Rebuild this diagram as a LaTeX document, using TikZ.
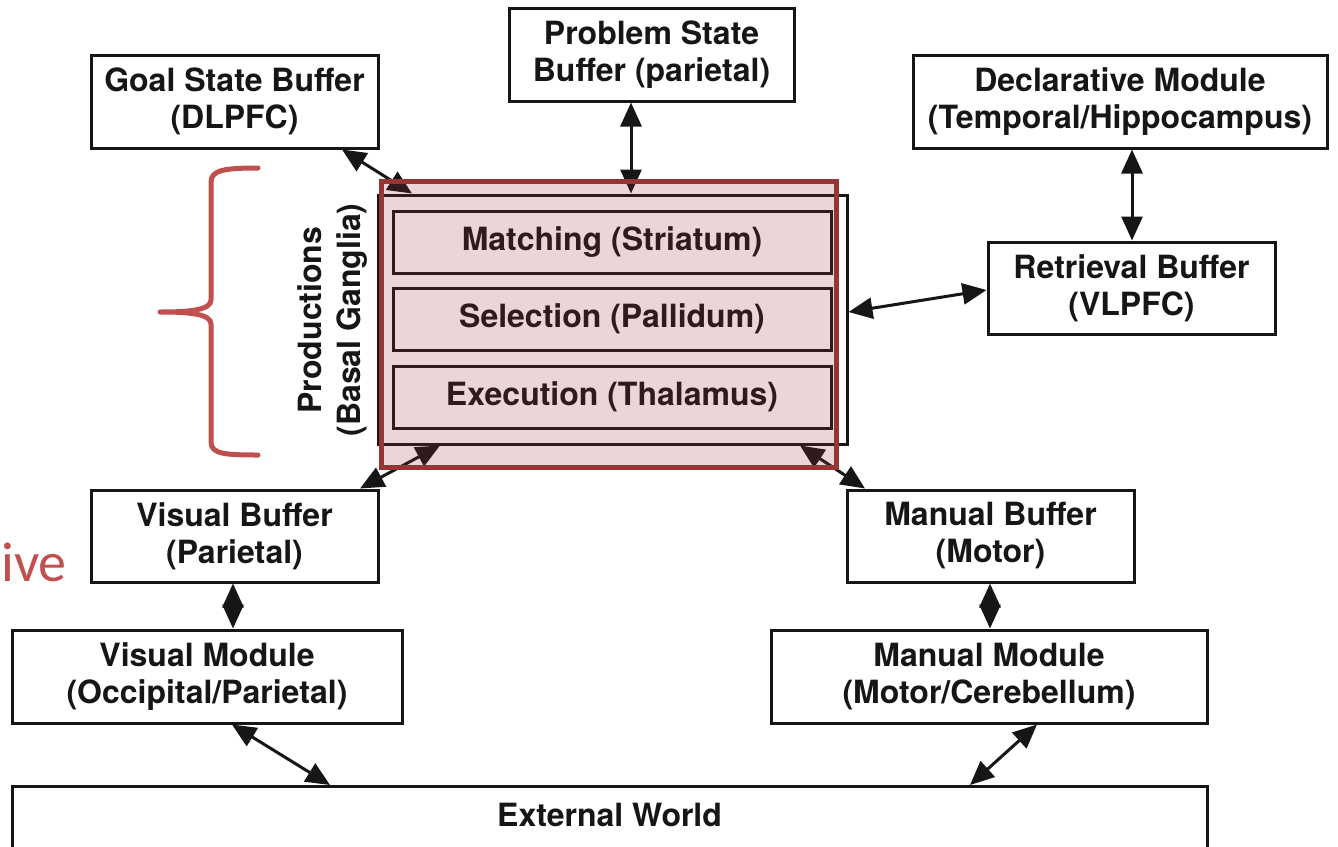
\documentclass[tikz,border=0pt]{standalone}
\usepackage{fontspec}
\setmainfont{TeX Gyre Heros}
\newfontfamily\notefont{Carlito}
\usetikzlibrary{arrows.meta,calc}

\definecolor{ink}{RGB}{22,22,22}
\definecolor{hiline}{RGB}{150,54,52}
\definecolor{hifill}{RGB}{150,50,50}
\definecolor{bracecol}{RGB}{192,80,77}

\tikzset{
  box/.style={draw=ink, line width=3pt, fill=white, text=ink, align=center,
    inner sep=0pt, font=\fontsize{32}{37}\selectfont\bfseries},
  lbl/.style={text=ink, align=center, inner sep=0pt,
    font=\fontsize{32}{39}\selectfont\bfseries},
  link/.style={draw=ink, line width=3pt,
    {Triangle[length=24pt,width=21pt]}-{Triangle[length=24pt,width=21pt]}},
  hilite/.style={draw=hiline, line width=5pt, fill=hifill, fill opacity=0.2,
    inner sep=0pt},
}

\begin{document}
\begin{tikzpicture}[x=1pt,y=-1pt]
\useasboundingbox (0,0) rectangle (1338,846);
\clip (0,0) rectangle (1338,846);

% buffers and modules
\node[box, minimum width=287, minimum height=93] (goal) at (234.5,101.5) {Goal State Buffer\\(DLPFC)};
\node[box, minimum width=285, minimum height=93] (prob) at (651.5,54.5) {Problem State\\Buffer (parietal)};
\node[box, minimum width=414, minimum height=93] (decl) at (1120,101.5) {Declarative Module\\(Temporal/Hippocampus)};
\node[box, minimum width=287, minimum height=92] (retr) at (1131.5,288) {Retrieval Buffer\\(VLPFC)};

% production system
\node[box, minimum width=469, minimum height=249] (prod) at (612.5,319.5) {};
\node[box, minimum width=438, minimum height=62] (match) at (612,242) {Matching (Striatum)};
\node[box, minimum width=438, minimum height=62] (sel) at (612,319) {Selection (Pallidum)};
\node[box, minimum width=438, minimum height=62] (exec) at (612,397) {Execution (Thalamus)};
\node[lbl, rotate=90] (plabel) at (333,320) {Productions\\(Basal Ganglia)};

\node[box, minimum width=287, minimum height=92] (vbuf) at (234.5,536) {Visual Buffer\\(Parietal)};
\node[box, minimum width=287, minimum height=92] (mbuf) at (990.5,536) {Manual Buffer\\(Motor)};
\node[box, minimum width=390, minimum height=93] (vmod) at (207,676.5) {Visual Module\\(Occipital/Parietal)};
\node[box, minimum width=436, minimum height=93] (mmod) at (989,676.5) {Manual Module\\(Motor/Cerebellum)};

% external world (runs past the lower edge)
\node[box, minimum width=1195, minimum height=110, anchor=north] (ext) at (609.5,785) {};
\node[lbl] (extlbl) at (609.5,815) {External World};

% connections
\draw[link] ([xshift=107.5pt]goal.south) -- ([xshift=-200.5pt]prod.north);
\draw[link] ([xshift=-20.5pt]prob.south) -- ([xshift=18.5pt]prod.north);
\draw[link] ([yshift=7.5pt]prod.east) -- ([yshift=-2pt]retr.west);
\draw[link] ([xshift=12pt]decl.south) -- ([xshift=0.5pt]retr.north);
\draw[link] ([xshift=125.5pt]vbuf.north) -- ([xshift=-172.5pt]prod.south);
\draw[link] ([xshift=187.5pt]prod.south) -- ([xshift=-125.5pt]mbuf.north);
\draw[link] ([xshift=-1.5pt]vbuf.south) -- ([xshift=26pt]vmod.north);
\draw[link] ([xshift=-0.5pt]mbuf.south) -- ([xshift=1pt]mmod.north);
\draw[link] ([xshift=25pt]vmod.south) -- ([xshift=-279.5pt]ext.north);
\draw[link] ([xshift=48pt]mmod.south) -- ([xshift=360.5pt]ext.north);

% highlight over the production stages
\node[hilite, minimum width=455, minimum height=286] (hl) at (608.5,324) {};

% curly brace marking the productions
\draw[bracecol, line width=5pt, line cap=round, line join=round]
  (258,168) .. controls (225,168) and (211,170) .. (211,182)
  -- (211,300) .. controls (211,310) and (190,312) .. (160,312)
  .. controls (190,312) and (211,314) .. (211,324)
  -- (211,442) .. controls (211,454) and (225,455) .. (258,455);

% note text in the margin
\node[anchor=base west, inner sep=0pt, text=bracecol,
  font=\fontsize{56}{64}\selectfont\notefont] (note) at (1,581) {ive};
\end{tikzpicture}
\end{document}
